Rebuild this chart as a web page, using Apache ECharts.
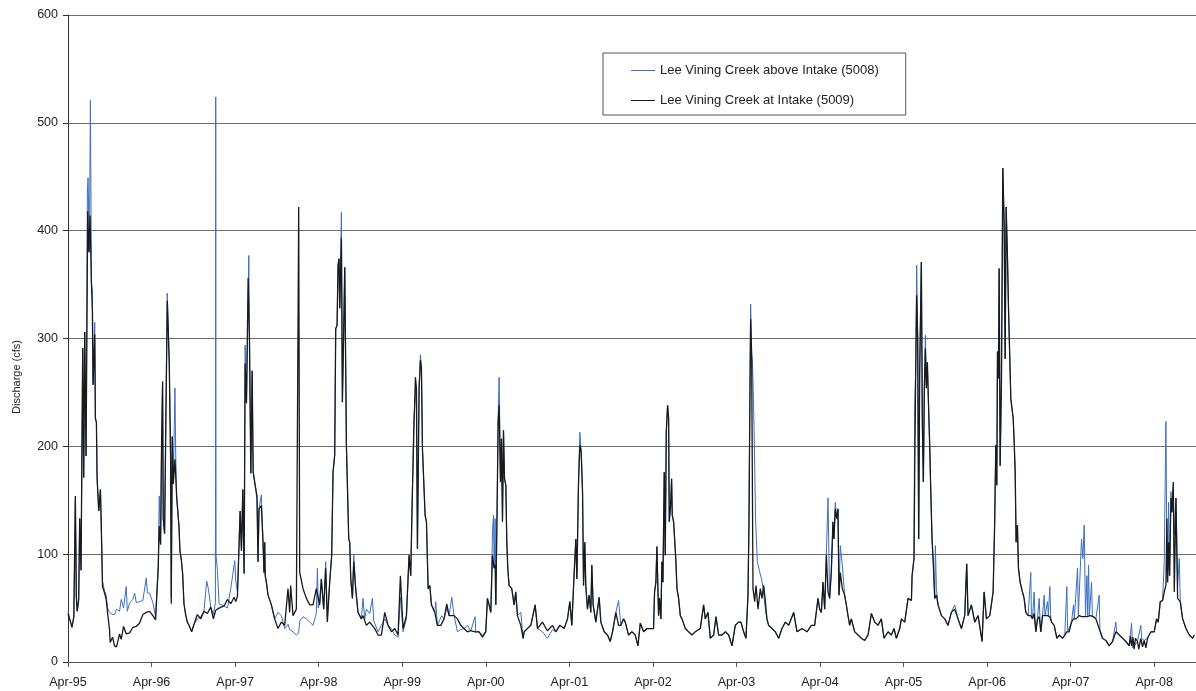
<!DOCTYPE html>
<html>
<head>
<meta charset="utf-8">
<script src="https://cdn.jsdelivr.net/npm/echarts@6/dist/echarts.min.js"></script>
<style>
html,body{margin:0;padding:0;background:#fff;}
#chart{width:1196px;height:691px;}
</style>
</head>
<body>
<div id="chart"></div>
<script>
// x = years since 1 Apr 1995, y = discharge (cfs)
const xTickLabels = ['Apr-95','Apr-96','Apr-97','Apr-98','Apr-99','Apr-00','Apr-01','Apr-02','Apr-03','Apr-04','Apr-05','Apr-06','Apr-07','Apr-08'];
const yTicks = [0,100,200,300,400,500,600];
const seriesNames = ['Lee Vining Creek above Intake (5008)','Lee Vining Creek at Intake (5009)'];
const yAxisTitle = 'Discharge (cfs)';

const aboveIntake5008 = [
[0,47],[0.02,40],[0.048,33],[0.07,42],[0.088,150],[0.1,60],[0.11,47],[0.128,58],[0.14,133],[0.156,85],[0.176,291],[0.188,171],[0.2,306],[0.216,191],[0.232,435],[0.24,449],[0.256,380],[0.268,521],[0.274,440],[0.28,352],[0.292,344],[0.3,257],[0.32,315],[0.328,226],[0.34,222],[0.348,171],[0.368,140],[0.388,160],[0.4,121],[0.413,75],[0.437,66],[0.457,62],[0.473,50],[0.497,46],[0.533,44],[0.557,44],[0.581,49],[0.617,47],[0.637,58],[0.665,50],[0.697,70],[0.71,47],[0.737,55],[0.776,58],[0.797,64],[0.817,55],[0.856,56],[0.896,57],[0.937,78],[0.95,64],[0.976,64],[1.016,55],[1.048,42],
[1.08,88],[1.092,154],[1.108,109],[1.12,202],[1.132,260],[1.14,133],[1.156,119],[1.168,202],[1.188,342],[1.2,308],[1.212,277],[1.228,188],[1.236,60],[1.248,209],[1.26,165],[1.28,254],[1.29,188],[1.3,154],[1.328,126],[1.34,103],[1.356,95],[1.372,82],[1.388,54],[1.408,44],[1.428,37],[1.448,34],[1.48,28],[1.508,35],[1.548,40],[1.588,42],[1.628,47],[1.64,58],[1.66,75],[1.68,68],[1.708,51],[1.74,44],[1.764,55],[1.768,524],[1.772,99],[1.788,85],[1.808,54],[1.868,52],[1.908,50],[1.948,68],[1.97,80],[1.996,94],[2.008,75],[2.028,65],
[2.06,140],[2.076,103],[2.092,160],[2.108,82],[2.12,294],[2.136,240],[2.164,377],[2.172,298],[2.188,175],[2.204,270],[2.216,176],[2.246,161],[2.262,155],[2.274,93],[2.286,142],[2.314,155],[2.334,111],[2.346,83],[2.354,111],[2.36,80],[2.374,74],[2.394,62],[2.434,53],[2.473,40],[2.513,46],[2.553,43],[2.593,31],[2.633,35],[2.653,30],[2.693,28],[2.733,25],[2.761,27],[2.773,38],[2.813,42],[2.853,40],[2.893,37],[2.932,34],[2.972,45],[2.985,87],[2.995,50],[3.012,55],[3.032,77],[3.06,49],[3.084,93],[3.104,40],[3.132,74],[3.156,99],
[3.172,176],[3.192,192],[3.204,309],[3.22,312],[3.232,368],[3.244,374],[3.252,328],[3.272,417],[3.284,241],[3.3,309],[3.312,366],[3.324,269],[3.332,201],[3.344,164],[3.36,114],[3.372,111],[3.384,77],[3.404,59],[3.42,99],[3.443,68],[3.471,46],[3.511,40],[3.531,59],[3.551,40],[3.571,49],[3.611,45],[3.643,59],[3.66,38],[3.671,37],[3.711,28],[3.751,34],[3.791,40],[3.831,34],[3.871,31],[3.911,25],[3.95,23],[3.978,60],[4.01,28],[4.05,40],[4.082,99],[4.102,80],[4.118,145],[4.138,223],[4.158,250],[4.17,254],[4.182,105],[4.202,254],[4.218,285],[4.23,272],[4.242,198],[4.258,167],[4.274,136],[4.29,130],[4.31,68],[4.33,71],[4.35,53],[4.39,46],[4.401,56],[4.421,34],[4.473,43],[4.501,40],[4.533,50],[4.561,43],[4.593,60],[4.621,43],[4.661,28],[4.7,30],[4.74,31],[4.78,34],[4.82,29],[4.872,42],[4.88,28],[4.92,28],[4.96,25],[5.0,28],
[5.02,59],[5.04,53],[5.06,46],[5.08,120],[5.092,136],[5.1,87],[5.112,133],[5.12,53],[5.136,145],[5.148,226],[5.16,264],[5.176,167],[5.188,207],[5.2,130],[5.212,215],[5.224,170],[5.24,164],[5.251,114],[5.263,87],[5.279,71],[5.311,68],[5.339,53],[5.359,65],[5.379,43],[5.419,46],[5.447,22],[5.459,28],[5.499,31],[5.539,34],[5.591,53],[5.619,31],[5.678,28],[5.738,22],[5.798,30],[5.838,28],[5.886,34],[5.938,31],[5.978,40],[6.006,56],[6.03,34],[6.058,83],[6.078,114],[6.09,77],[6.11,167],[6.126,213],[6.142,195],[6.158,158],[6.17,71],[6.185,111],[6.197,71],[6.217,49],[6.237,62],[6.257,46],[6.269,90],[6.285,53],[6.317,37],[6.357,60],[6.377,37],[6.417,28],[6.457,25],[6.489,19],[6.517,28],[6.557,46],[6.589,57],[6.617,34],[6.649,40],[6.669,37],[6.709,25],[6.749,28],[6.789,25],[6.821,15],[6.849,36],[6.889,28],[6.928,31],[6.968,31],[7.008,31],
[7.02,65],[7.036,74],[7.048,107],[7.068,43],[7.08,59],[7.096,40],[7.108,93],[7.12,74],[7.136,176],[7.148,99],[7.16,213],[7.176,238],[7.188,226],[7.196,130],[7.212,145],[7.224,170],[7.232,136],[7.248,130],[7.26,114],[7.276,93],[7.288,68],[7.308,59],[7.328,43],[7.348,40],[7.388,31],[7.427,28],[7.467,25],[7.507,28],[7.567,31],[7.607,53],[7.627,40],[7.659,46],[7.687,22],[7.727,25],[7.755,42],[7.787,25],[7.827,25],[7.867,28],[7.907,25],[7.947,15],[7.986,34],[8.026,37],[8.054,37],[8.086,28],[8.114,22],
[8.138,62],[8.15,130],[8.162,254],[8.17,332],[8.182,285],[8.19,280],[8.198,260],[8.21,220],[8.23,130],[8.25,93],[8.28,83],[8.3,77],[8.32,68],[8.346,49],[8.365,40],[8.385,34],[8.425,31],[8.465,28],[8.505,22],[8.545,31],[8.585,37],[8.625,34],[8.685,46],[8.725,28],[8.785,31],[8.845,28],[8.896,34],[8.936,34],[8.976,59],[8.996,49],[9.016,46],[9.036,74],[9.056,49],[9.076,99],[9.096,152],[9.115,59],[9.135,83],[9.155,130],[9.167,114],[9.183,148],[9.199,133],[9.215,142],[9.227,62],[9.243,108],[9.267,90],[9.295,62],[9.315,53],[9.335,43],[9.355,34],[9.375,40],[9.415,28],[9.455,25],[9.495,22],[9.535,20],[9.575,25],[9.615,45],[9.654,37],[9.694,34],[9.734,40],[9.766,22],[9.814,28],[9.854,25],[9.886,31],[9.914,22],[9.954,31],[9.974,40],[10.014,37],[10.054,59],[10.094,57],[10.102,80],[10.125,96],
[10.133,235],[10.145,269],[10.157,368],[10.169,300],[10.181,114],[10.193,269],[10.213,371],[10.225,220],[10.237,167],[10.249,254],[10.261,303],[10.273,254],[10.285,278],[10.301,232],[10.313,201],[10.325,161],[10.341,114],[10.357,90],[10.373,59],[10.381,108],[10.393,68],[10.413,53],[10.453,43],[10.493,40],[10.532,34],[10.572,46],[10.612,53],[10.652,40],[10.692,31],[10.732,43],[10.756,91],[10.772,43],[10.812,53],[10.852,37],[10.892,43],[10.94,19],[10.964,65],[10.992,40],[11.032,43],[11.072,65],
[11.09,127],[11.104,201],[11.116,164],[11.124,288],[11.136,263],[11.144,365],[11.156,182],[11.172,263],[11.188,458],[11.204,405],[11.216,281],[11.228,422],[11.244,374],[11.256,328],[11.272,328],[11.284,244],[11.296,244],[11.312,226],[11.324,204],[11.336,176],[11.347,111],[11.363,127],[11.375,87],[11.395,74],[11.423,65],[11.443,59],[11.463,46],[11.491,43],[11.523,83],[11.53,43],[11.543,40],[11.563,65],[11.573,40],[11.583,28],[11.603,40],[11.623,59],[11.633,40],[11.643,28],[11.663,43],[11.683,62],[11.693,43],[11.723,56],[11.733,43],[11.751,70],[11.761,42],[11.771,37],[11.803,34],[11.835,22],[11.862,25],[11.902,22],[11.93,25],[11.954,70],[11.964,28],[11.982,28],[12.01,37],[12.034,53],[12.044,40],[12.062,40],[12.082,87],[12.092,43],[12.102,43],[12.13,114],[12.146,96],[12.162,127],[12.178,43],[12.194,80],[12.204,43],[12.214,90],[12.224,43],[12.25,74],[12.26,42],[12.274,42],[12.302,40],[12.341,62],[12.35,30],[12.381,22],[12.421,20],[12.461,15],[12.501,19],[12.541,37],[12.55,28],[12.581,25],[12.621,22],[12.661,19],[12.701,15],[12.729,36],[12.74,13],[12.76,12],[12.8,19],[12.84,34],[12.85,22],[12.88,20],[12.92,22],[12.96,28],[13.0,28],[13.028,40],[13.048,37],[13.072,56],[13.1,57],[13.12,93],[13.14,223],[13.152,100],[13.16,74],[13.172,148],[13.184,80],[13.2,158],[13.212,139],[13.228,160],[13.24,118],[13.26,152],[13.28,70],[13.3,96],[13.312,56],[13.34,40],[13.38,31],[13.42,25],[13.46,22],[13.48,25]
];

const atIntake5009 = [
[0,45],[0.02,40],[0.048,32],[0.07,42],[0.088,154],[0.1,60],[0.11,47],[0.128,58],[0.14,133],[0.156,85],[0.176,291],[0.188,171],[0.2,306],[0.216,191],[0.236,418],[0.25,380],[0.264,414],[0.28,352],[0.292,325],[0.3,257],[0.32,304],[0.328,226],[0.34,222],[0.348,171],[0.368,140],[0.388,160],[0.4,119],[0.413,70],[0.437,64],[0.457,58],[0.473,46],[0.497,30],[0.505,18],[0.533,23],[0.557,15],[0.581,14],[0.617,26],[0.637,21],[0.665,33],[0.697,26],[0.737,27],[0.776,32],[0.817,33],[0.856,36],[0.896,44],[0.937,46],[0.976,47],[1.016,43],[1.048,39],
[1.08,88],[1.092,126],[1.108,109],[1.12,202],[1.132,260],[1.14,133],[1.156,119],[1.168,202],[1.188,335],[1.2,308],[1.212,277],[1.228,188],[1.236,54],[1.248,209],[1.26,165],[1.28,188],[1.3,154],[1.328,126],[1.34,103],[1.356,95],[1.372,82],[1.388,54],[1.408,44],[1.428,37],[1.448,34],[1.48,28],[1.508,35],[1.548,44],[1.588,40],[1.628,47],[1.668,45],[1.708,51],[1.74,40],[1.768,48],[1.808,50],[1.868,52],[1.908,58],[1.948,54],[1.988,60],[2.008,56],[2.028,61],
[2.06,140],[2.076,103],[2.092,160],[2.108,82],[2.12,277],[2.136,240],[2.156,356],[2.172,298],[2.188,175],[2.204,270],[2.216,176],[2.246,161],[2.262,152],[2.274,93],[2.286,142],[2.314,145],[2.334,111],[2.346,83],[2.354,111],[2.36,80],[2.374,74],[2.394,62],[2.434,53],[2.473,40],[2.513,31],[2.553,37],[2.593,34],[2.633,68],[2.653,46],[2.665,71],[2.693,43],[2.733,49],[2.753,50],[2.761,422],[2.773,83],[2.813,68],[2.853,59],[2.893,53],[2.932,53],[2.972,68],[3.012,53],[3.032,77],[3.06,49],[3.084,87],[3.104,37],[3.132,74],[3.156,99],
[3.172,176],[3.192,192],[3.204,309],[3.22,312],[3.232,368],[3.244,374],[3.252,328],[3.272,393],[3.284,241],[3.3,309],[3.312,366],[3.324,269],[3.332,201],[3.344,164],[3.36,114],[3.372,111],[3.384,77],[3.404,59],[3.42,93],[3.443,68],[3.471,46],[3.511,40],[3.531,43],[3.571,34],[3.611,37],[3.671,31],[3.711,25],[3.751,25],[3.791,46],[3.831,34],[3.871,28],[3.911,31],[3.95,25],[3.978,80],[4.01,31],[4.05,43],[4.082,99],[4.102,80],[4.118,145],[4.138,210],[4.158,264],[4.17,254],[4.182,105],[4.202,254],[4.218,280],[4.23,272],[4.242,198],[4.258,167],[4.274,136],[4.29,130],[4.31,68],[4.33,71],[4.35,53],[4.39,46],[4.421,34],[4.461,34],[4.501,40],[4.533,54],[4.561,43],[4.593,43],[4.621,43],[4.661,40],[4.7,34],[4.74,31],[4.78,28],[4.82,29],[4.872,28],[4.92,28],[4.96,23],[5.0,28],
[5.02,59],[5.04,53],[5.06,46],[5.08,99],[5.1,87],[5.112,90],[5.12,53],[5.136,145],[5.148,223],[5.16,238],[5.176,167],[5.188,207],[5.2,130],[5.212,215],[5.224,170],[5.24,164],[5.251,114],[5.263,87],[5.279,71],[5.311,68],[5.339,53],[5.359,65],[5.379,43],[5.419,34],[5.447,22],[5.459,28],[5.499,31],[5.539,34],[5.591,53],[5.619,31],[5.678,37],[5.738,29],[5.798,34],[5.838,28],[5.886,34],[5.938,31],[5.978,40],[6.006,56],[6.03,34],[6.058,83],[6.078,114],[6.09,77],[6.11,167],[6.126,201],[6.142,195],[6.158,158],[6.17,71],[6.185,111],[6.197,71],[6.217,49],[6.237,62],[6.257,46],[6.269,90],[6.285,53],[6.317,37],[6.357,60],[6.377,37],[6.417,28],[6.457,25],[6.489,19],[6.517,28],[6.557,46],[6.589,34],[6.617,34],[6.649,40],[6.669,37],[6.709,25],[6.749,28],[6.789,25],[6.821,15],[6.849,36],[6.889,28],[6.928,31],[6.968,31],[7.008,31],
[7.02,65],[7.036,74],[7.048,107],[7.068,43],[7.08,59],[7.096,40],[7.108,93],[7.12,74],[7.136,176],[7.148,99],[7.16,213],[7.176,238],[7.188,226],[7.196,130],[7.212,145],[7.224,170],[7.232,136],[7.248,130],[7.26,114],[7.276,93],[7.288,68],[7.308,59],[7.328,43],[7.348,40],[7.388,31],[7.427,28],[7.467,25],[7.507,28],[7.567,31],[7.607,53],[7.627,40],[7.659,46],[7.687,22],[7.727,25],[7.755,42],[7.787,25],[7.827,25],[7.867,28],[7.907,25],[7.947,15],[7.986,34],[8.026,37],[8.054,37],[8.086,28],[8.114,22],
[8.138,62],[8.15,130],[8.162,254],[8.17,318],[8.182,285],[8.198,68],[8.218,56],[8.234,71],[8.258,49],[8.286,68],[8.306,59],[8.326,71],[8.346,56],[8.365,40],[8.385,34],[8.425,31],[8.465,28],[8.505,22],[8.545,31],[8.585,37],[8.625,34],[8.685,46],[8.725,28],[8.785,31],[8.845,28],[8.896,34],[8.936,34],[8.976,59],[8.996,49],[9.016,46],[9.036,74],[9.056,49],[9.076,99],[9.096,65],[9.115,59],[9.135,83],[9.155,130],[9.167,114],[9.183,142],[9.199,133],[9.215,142],[9.227,62],[9.243,83],[9.267,68],[9.295,62],[9.315,53],[9.335,43],[9.355,34],[9.375,40],[9.415,28],[9.455,25],[9.495,22],[9.535,20],[9.575,25],[9.615,45],[9.654,37],[9.694,34],[9.734,40],[9.766,22],[9.814,28],[9.854,25],[9.886,31],[9.914,22],[9.954,31],[9.974,40],[10.014,37],[10.054,59],[10.094,57],[10.102,80],[10.125,96],
[10.133,170],[10.145,269],[10.157,340],[10.169,300],[10.181,114],[10.193,269],[10.213,371],[10.225,220],[10.237,167],[10.249,254],[10.261,291],[10.273,254],[10.285,278],[10.301,232],[10.313,201],[10.325,161],[10.341,114],[10.357,90],[10.373,59],[10.393,62],[10.413,53],[10.453,43],[10.493,40],[10.532,34],[10.572,46],[10.612,49],[10.652,40],[10.692,31],[10.732,43],[10.756,91],[10.772,43],[10.812,53],[10.852,37],[10.892,43],[10.94,19],[10.964,65],[10.992,40],[11.032,43],[11.072,65],
[11.09,127],[11.104,201],[11.116,164],[11.124,288],[11.136,263],[11.144,365],[11.156,182],[11.172,263],[11.188,458],[11.204,405],[11.216,281],[11.228,422],[11.244,374],[11.256,328],[11.272,328],[11.284,244],[11.296,244],[11.312,226],[11.324,204],[11.336,176],[11.347,111],[11.363,127],[11.375,87],[11.395,74],[11.423,65],[11.443,59],[11.463,46],[11.491,43],[11.523,43],[11.543,40],[11.563,45],[11.583,28],[11.603,40],[11.623,42],[11.643,28],[11.663,43],[11.683,43],[11.723,43],[11.751,42],[11.771,37],[11.803,34],[11.835,22],[11.862,25],[11.902,22],[11.93,25],[11.954,28],[11.982,28],[12.01,37],[12.034,40],[12.062,40],[12.082,40],[12.102,43],[12.13,42],[12.162,42],[12.194,42],[12.234,43],[12.274,42],[12.302,40],[12.322,40],[12.354,28],[12.381,22],[12.421,20],[12.461,15],[12.501,19],[12.541,28],[12.581,25],[12.621,22],[12.661,19],[12.701,15],[12.715,24],[12.729,15],[12.745,23],[12.76,12],[12.775,22],[12.8,19],[12.815,12],[12.84,22],[12.86,14],[12.88,20],[12.9,13],[12.92,22],[12.96,28],[13.0,28],[13.028,40],[13.048,37],[13.072,56],[13.1,57],[13.12,65],[13.14,71],[13.152,133],[13.16,74],[13.172,111],[13.184,80],[13.2,152],[13.212,139],[13.228,167],[13.24,65],[13.26,152],[13.28,59],[13.3,59],[13.312,56],[13.34,40],[13.38,31],[13.42,25],[13.46,22],[13.48,25]
];

const FONT = '"Liberation Sans", Arial, sans-serif';
const chart = echarts.init(document.getElementById('chart'), null, {renderer: 'canvas'});
chart.setOption({
  animation: false,
  backgroundColor: '#ffffff',
  textStyle: {fontFamily: FONT},
  grid: {left: 68, right: 0, top: 15, bottom: 29, containLabel: false},
  legend: {
    orient: 'vertical',
    left: 603, top: 53,
    data: seriesNames.map(function (n) { return {name: n, icon: 'rect'}; }),
    backgroundColor: '#ffffff',
    borderColor: '#555555', borderWidth: 1,
    padding: [11, 27, 8, 28],
    itemGap: 17,
    itemWidth: 24, itemHeight: 1,
    textStyle: {fontFamily: FONT, fontSize: 13, color: '#222222'}
  },
  graphic: [{
    type: 'text', x: 17, y: 377, rotation: Math.PI / 2,
    style: {text: yAxisTitle, align: 'center', verticalAlign: 'middle',
            font: '11px "Liberation Sans", Arial, sans-serif', fill: '#222222'}
  }],
  xAxis: {
    type: 'value', min: 0, max: 13.5, interval: 1,
    axisLine: {show: true, lineStyle: {color: '#555555', width: 1}},
    axisTick: {show: true, length: 5, lineStyle: {color: '#555555'}},
    axisLabel: {
      fontFamily: FONT, fontSize: 12.5, color: '#222222', margin: 14,
      showMaxLabel: false,
      formatter: function (v) { return Number.isInteger(v) && xTickLabels[v] ? xTickLabels[v] : ''; }
    },
    splitLine: {show: false}
  },
  yAxis: {
    type: 'value', min: yTicks[0], max: yTicks[yTicks.length - 1], interval: 100,
    axisLine: {show: true, lineStyle: {color: '#333333', width: 1}},
    axisTick: {show: true, length: 5, lineStyle: {color: '#333333'}},
    axisLabel: {fontFamily: FONT, fontSize: 12.5, color: '#222222', margin: 10},
    splitLine: {show: true, lineStyle: {color: '#6e6e6e', width: 1}}
  },
  series: [
    {
      name: seriesNames[0], type: 'line', data: aboveIntake5008,
      symbol: 'none', showSymbol: false, smooth: false,
      lineStyle: {color: '#3b6fc0', width: 1},
      itemStyle: {color: '#3b6fc0'},
      z: 2
    },
    {
      name: seriesNames[1], type: 'line', data: atIntake5009,
      symbol: 'none', showSymbol: false, smooth: false,
      lineStyle: {color: '#1a1a1a', width: 1.3},
      itemStyle: {color: '#1a1a1a'},
      z: 3
    }
  ]
});
</script>
</body>
</html>
